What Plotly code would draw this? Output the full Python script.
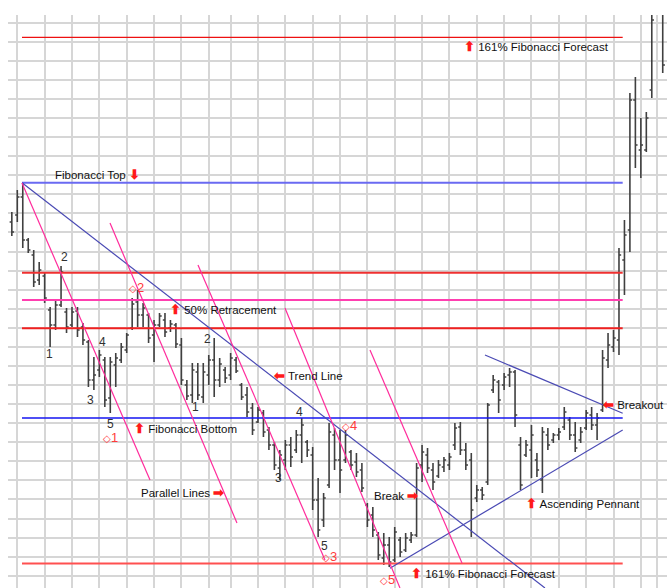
import plotly.graph_objects as go

# daily bars, prices
bar_high = [38.8, 41.0, 41.7, 36.2, 35.0, 33.8, 32.7, 29.3, 30.0, 33.4,
            29.2, 29.3, 29.3, 27.7, 26.0, 24.3, 25.0, 24.3, 24.3, 24.7,
            25.7, 26.7, 30.2, 31.0, 29.7, 28.7, 28.0, 28.7, 28.7, 28.0,
            27.7, 26.2, 22.0, 23.7, 23.7, 23.7, 24.5, 26.2, 24.2, 23.3,
            24.7, 24.3, 21.7, 21.3, 19.7, 19.3, 19.0, 17.3, 15.8, 15.0,
            16.0, 16.3, 17.0, 18.2, 16.0, 15.3, 12.2, 10.7, 17.7, 17.2,
            17.0, 17.0, 15.0, 14.7, 13.7, 9.7, 9.3, 6.8, 6.7, 6.3,
            7.3, 6.3, 6.7, 6.8, 13.7, 15.5, 15.2, 13.7, 14.0, 14.3,
            14.7, 17.7, 17.8, 15.7, 14.7, 11.5, 11.3, 19.7, 22.5, 22.0,
            22.7, 23.2, 23.0, 16.3, 16.0, 17.5, 14.7, 17.3, 17.2, 16.7,
            17.2, 19.3, 18.3, 17.8, 17.3, 19.0, 19.3, 18.7, 25.0, 26.7,
            27.0, 35.2, 38.0, 50.7, 52.3, 48.2, 48.8, 59.5, 63.0, 62.0]
bar_low = [36.4, 37.8, 35.2, 34.7, 31.3, 31.5, 29.7, 25.3, 27.0, 29.3,
           26.7, 27.3, 26.3, 25.5, 21.3, 21.0, 22.3, 19.3, 18.7, 21.3,
           23.7, 24.7, 27.0, 27.3, 27.3, 25.7, 23.8, 27.3, 26.3, 26.8,
           25.2, 21.5, 20.0, 19.7, 20.0, 19.7, 21.5, 20.3, 21.3, 21.7,
           22.0, 22.7, 20.0, 18.3, 16.5, 17.7, 16.3, 15.0, 13.0, 12.0,
           13.0, 13.3, 14.7, 13.7, 14.3, 9.0, 6.3, 7.3, 11.2, 13.0,
           10.7, 13.7, 13.0, 12.3, 10.8, 7.3, 6.3, 4.0, 3.5, 3.3,
           3.8, 4.3, 4.8, 5.7, 6.3, 11.8, 12.7, 11.0, 12.2, 12.8,
           13.0, 15.0, 14.5, 13.0, 6.3, 9.8, 10.0, 11.5, 20.7, 18.7,
           21.0, 21.3, 17.3, 11.0, 14.3, 12.2, 12.3, 10.7, 15.0, 15.7,
           16.0, 17.0, 16.0, 14.8, 15.7, 17.0, 17.0, 16.0, 18.8, 23.2,
           24.8, 24.5, 30.5, 34.8, 43.2, 42.2, 44.8, 50.2, 59.0, 52.7]
bar_open = [37.8, 38.5, 40.3, 36.0, 34.5, 32.0, 32.4, 29.0, 27.5, 29.5,
            28.8, 27.5, 28.9, 27.3, 25.8, 22.0, 23.0, 24.0, 20.2, 23.5,
            24.0, 25.0, 27.2, 29.8, 28.5, 28.5, 26.5, 27.5, 28.0, 27.2,
            27.5, 25.5, 21.5, 20.5, 22.8, 20.3, 22.5, 24.0, 22.0, 23.0,
            22.5, 24.0, 21.5, 20.5, 19.2, 17.8, 18.7, 17.0, 15.5, 13.2,
            14.0, 15.5, 15.0, 16.5, 15.8, 14.5, 10.0, 8.0, 11.5, 16.5,
            14.0, 14.0, 14.8, 13.8, 13.0, 9.5, 8.5, 6.5, 4.2, 5.5,
            4.0, 6.0, 5.0, 6.0, 6.5, 13.5, 14.5, 13.0, 12.4, 13.3,
            13.5, 15.5, 17.3, 15.0, 14.0, 10.2, 11.0, 11.8, 21.0, 21.8,
            21.5, 22.5, 22.8, 15.5, 14.5, 15.0, 14.0, 12.0, 16.5, 16.0,
            16.5, 17.3, 18.0, 16.5, 16.0, 17.2, 18.5, 17.5, 19.0, 24.0,
            25.3, 26.0, 34.0, 37.0, 50.0, 45.0, 45.0, 51.0, 60.0, 60.0]
bar_close = [36.8, 40.3, 36.0, 35.0, 31.8, 33.0, 30.2, 27.5, 29.5, 32.8,
             27.3, 28.8, 27.0, 26.0, 22.0, 22.5, 24.5, 20.0, 23.8, 24.2,
             25.3, 26.5, 29.6, 28.5, 29.2, 26.2, 27.5, 28.4, 26.8, 27.6,
             25.6, 22.0, 20.4, 23.0, 20.5, 22.8, 24.0, 22.0, 23.6, 22.2,
             24.2, 22.9, 20.3, 18.8, 17.0, 19.0, 16.8, 15.5, 13.5, 14.5,
             15.5, 14.3, 16.5, 17.5, 15.0, 10.0, 7.0, 10.2, 16.8, 14.0,
             13.0, 16.5, 13.5, 12.8, 11.2, 8.0, 7.0, 4.5, 5.5, 3.8,
             6.8, 4.8, 6.2, 6.5, 13.2, 14.8, 13.2, 11.8, 13.5, 14.0,
             14.3, 17.2, 15.0, 13.5, 9.0, 11.0, 10.5, 19.5, 22.0, 20.0,
             22.3, 22.8, 18.5, 11.5, 15.5, 16.5, 13.0, 16.8, 15.5, 16.5,
             16.8, 18.8, 16.5, 15.2, 16.8, 18.7, 17.5, 18.2, 24.2, 25.5,
             26.2, 34.5, 36.5, 50.0, 45.5, 45.5, 48.2, 58.0, 62.0, 53.5]
bar_index = list(range(len(bar_close)))

# first bar of each week (vertical grid)
week_starts = [1, 6, 11, 16, 21, 26, 31, 36, 40, 45, 50, 55, 60, 65, 70,
               75, 80, 85, 90, 95, 100, 105, 110, 115, 118]

# horizontal Fibonacci levels
level_names = ["161% forecast up", "Fibonacci top", "38.2%", "50%",
               "61.8%", "Fibonacci bottom", "161% forecast down"]
level_prices = [56.27, 41.73, 32.73, 30.0, 27.17, 18.2, 3.65]
level_colors = ["#ee1111", "#6a6af2", "#f03030", "#ff3fb0", "#f02020",
                "#1414f0", "#ff5050"]
level_widths = [1.2, 2, 2, 2, 2, 1.6, 2]
level_start, level_end = 1.86, 111.68

# drawn lines: (x0, y0, x1, y1) in bar index / price
trend_lines = [(1.86, 41.73, 97.47, 1.2),
               (86.5, 24.5, 111.68, 18.67),
               (69.13, 3.17, 111.68, 17.0)]
parallel_lines = [(1.86, 41.7, 25.26, 12.0),
                  (17.95, 37.7, 41.16, 7.7),
                  (34.03, 33.5, 57.25, 4.0),
                  (49.94, 29.2, 70.96, 1.2),
                  (65.48, 25.0, 82.3, 3.7)]

RED = "#ff1a1a"
arrow = "<span style='color:" + RED + ";font-size:13px'><b>{}</b></span>"
up, down, right, left = (arrow.format(a) for a in "⬆⬇➡⬅")

notes = [(up + " 161% Fibonacci Forecast", 82.3, 55.4),
         ("Fibonacci Top " + down, 7.47, 42.6),
         (up + " 50% Retracement", 28.55, 29.1),
         (up + " Fibonacci Bottom", 21.97, 17.2),
         (left + " Trend Line", 47.38, 22.5),
         ("Parallel Lines " + right, 23.25, 10.8),
         ("Break " + right, 65.79, 10.5),
         (up + " 161% Fibonacci Forecast", 72.6, 2.7),
         (up + " Ascending Pennant", 93.63, 9.7),
         (left + " Breakout", 107.6, 19.6)]

wave_labels = [("2", 9.54, 34.3), ("1", 6.85, 24.6), ("4", 16.54, 25.77),
               ("3", 14.42, 20.0), ("5", 17.95, 17.6), ("2", 35.73, 26.07),
               ("1", 33.49, 19.3), ("4", 52.68, 18.83), ("3", 48.84, 12.2),
               ("5", 57.25, 5.4)]
wave_marks = [("1", 18.04, 16.3), ("2", 22.88, 31.3), ("4", 61.82, 17.5),
              ("3", 58.07, 4.33), ("5", 68.59, 2.1)]

fig = go.Figure()
fig.add_trace(go.Ohlc(
    x=bar_index, open=bar_open, high=bar_high, low=bar_low, close=bar_close,
    increasing_line_color="#404040", decreasing_line_color="#404040",
    line_width=1.6, tickwidth=0.4, hoverinfo="skip", showlegend=False))

shapes = []
for price, color, w in zip(level_prices, level_colors, level_widths):
    shapes.append(dict(type="line", x0=level_start, x1=level_end, y0=price, y1=price,
                       line=dict(color=color, width=w)))
for x0, y0, x1, y1 in trend_lines:
    shapes.append(dict(type="line", x0=x0, y0=y0, x1=x1, y1=y1,
                       line=dict(color="#4a4ab4", width=1.2)))
for x0, y0, x1, y1 in parallel_lines:
    shapes.append(dict(type="line", x0=x0, y0=y0, x1=x1, y1=y1,
                       line=dict(color="#ff2c9c", width=1.2)))

font = dict(family="Liberation Sans, Arial, sans-serif", size=11.5, color="#111111")
annotations = []
for text, x, y in notes:
    annotations.append(dict(text=text, x=x, y=y, xanchor="left", yanchor="middle",
                            showarrow=False, font=font))
for text, x, y in wave_labels:
    annotations.append(dict(text=text, x=x, y=y, showarrow=False,
                            font=dict(font, color="#303030", size=12)))
for text, x, y in wave_marks:
    annotations.append(dict(text="<span style='font-size:10px'>◇</span>" + text,
                            x=x, y=y, showarrow=False,
                            font=dict(font, color="#ff3b3b", size=13)))

fig.update_layout(
    width=667, height=588,
    margin=dict(l=8, r=0, t=15, b=0),
    paper_bgcolor="white", plot_bgcolor="white",
    shapes=shapes, annotations=annotations,
    xaxis=dict(range=[-0.7, 119.78], tickmode="array", tickvals=week_starts,
               showticklabels=False, showgrid=True, gridcolor="#d6d6d6", gridwidth=2,
               zeroline=False, showline=False, rangeslider=dict(visible=False)),
    yaxis=dict(range=[1.2, 58.5], tick0=57.73, dtick=1.907, showticklabels=False,
               showgrid=True, gridcolor="#d6d6d6", gridwidth=2, zeroline=False,
               showline=False),
)

# drop the default page margin so the figure sits at the window's corner
fig.write_html("out.html", config={"displayModeBar": False},
               post_script="document.body.style.margin='0';document.body.style.overflow='hidden';")
